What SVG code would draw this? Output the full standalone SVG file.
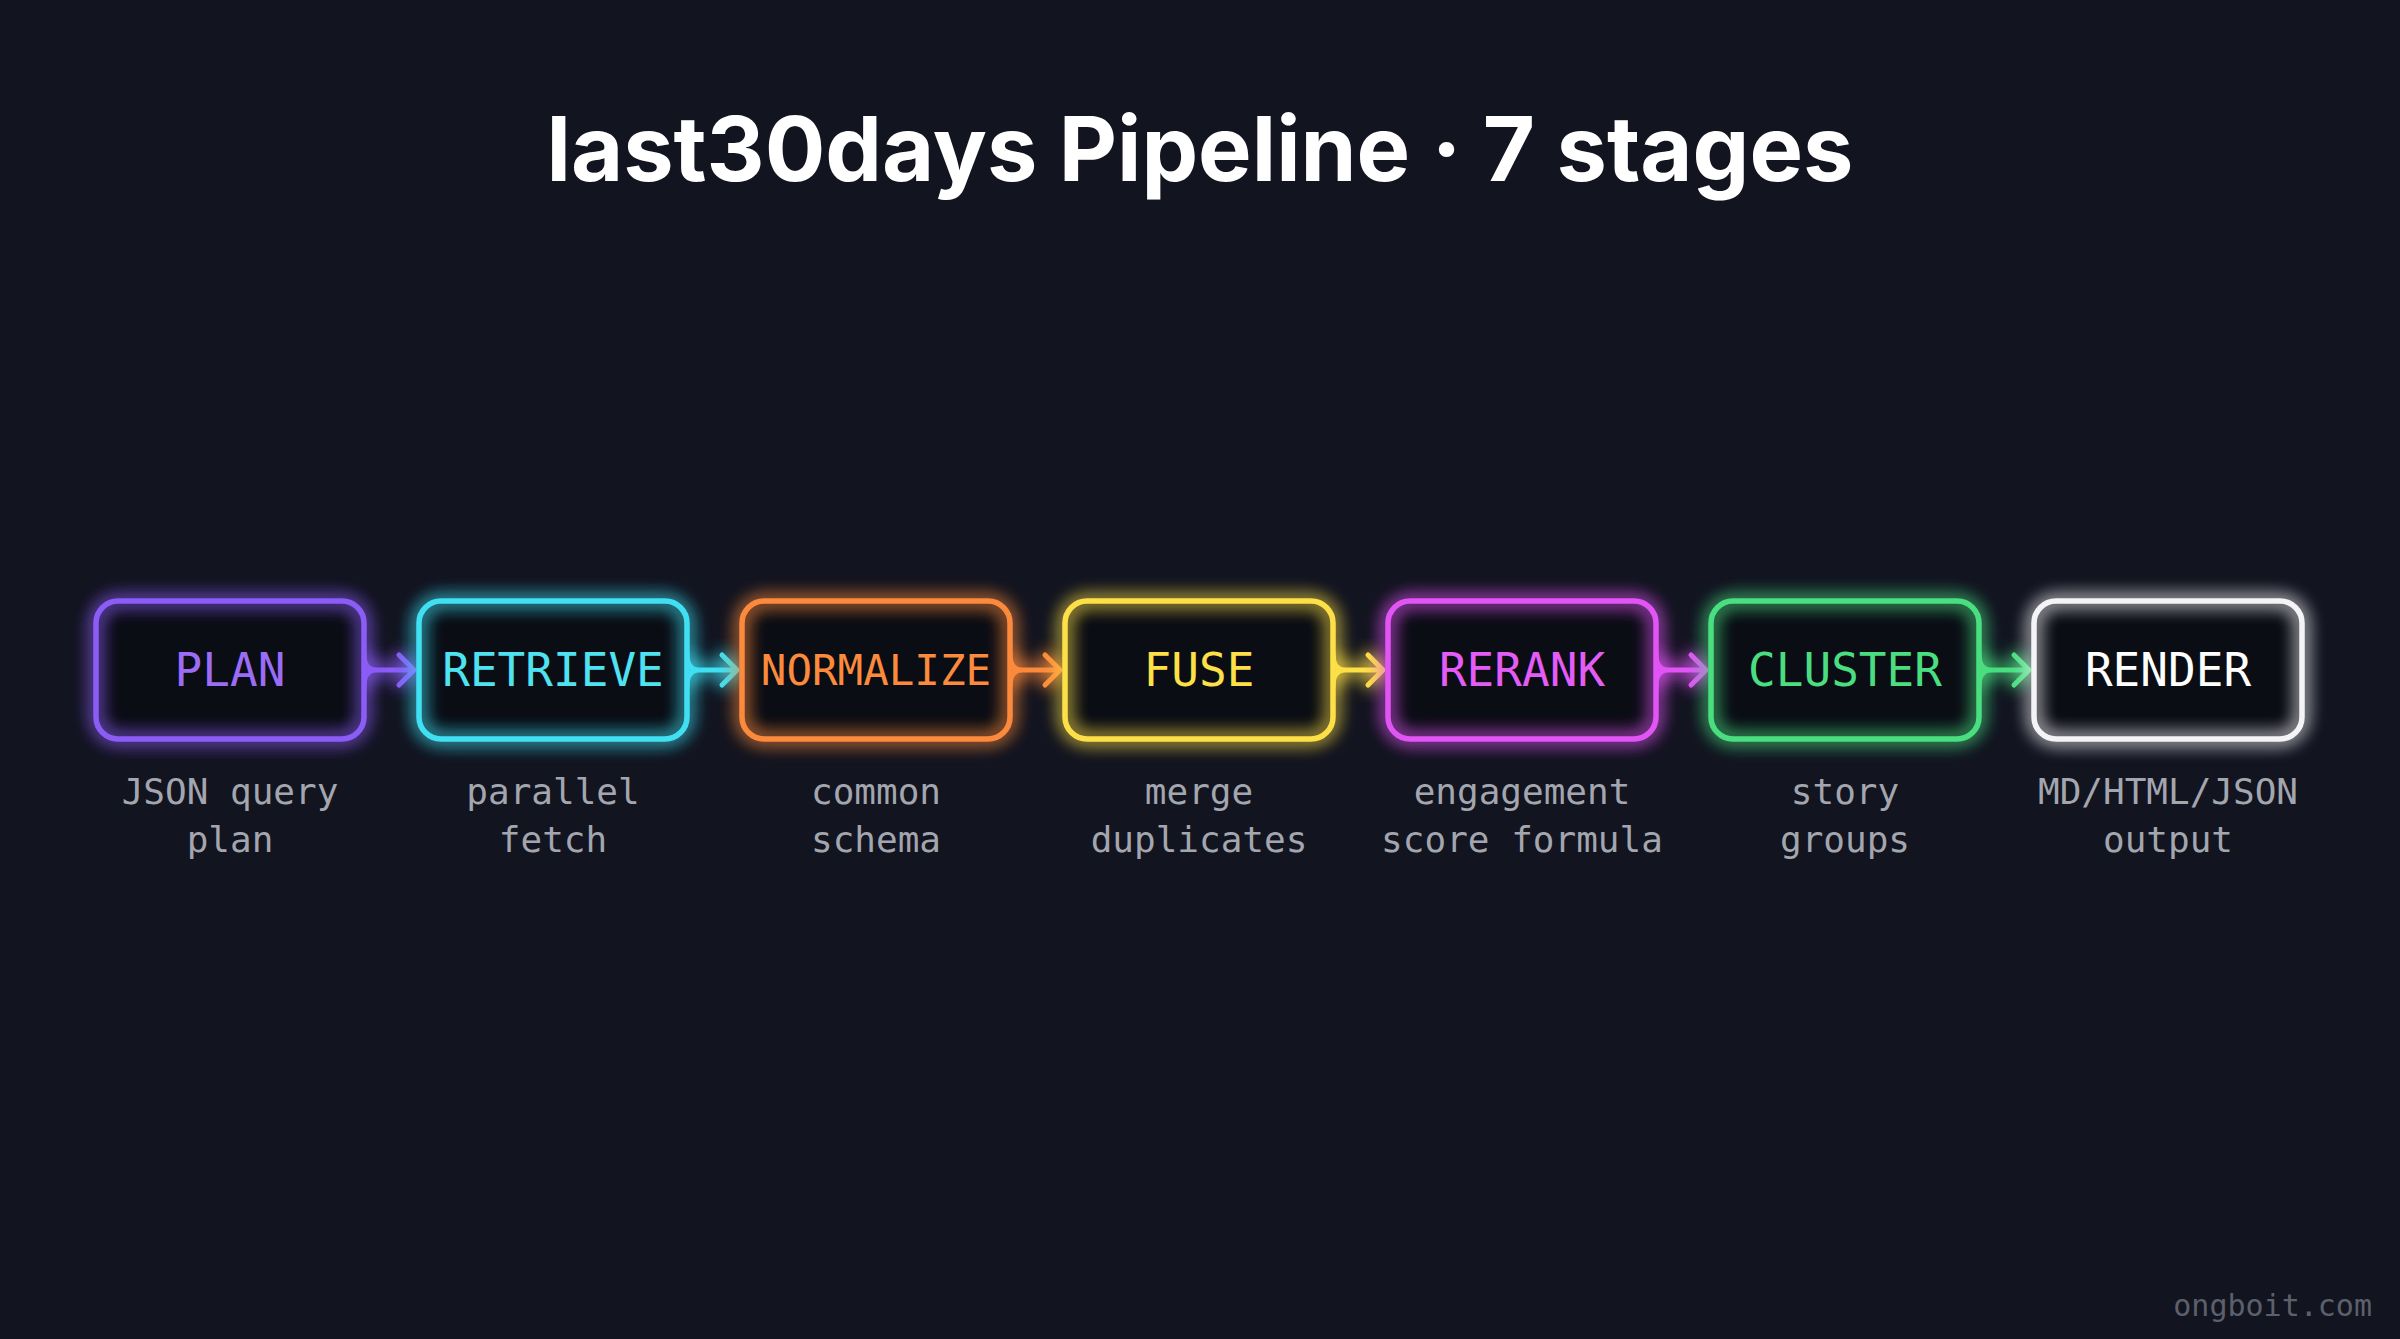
<svg xmlns="http://www.w3.org/2000/svg" width="2400" height="1339" viewBox="0 0 2400 1339">
<defs>
<filter id="glow" x="-30%" y="-50%" width="160%" height="200%">
<feGaussianBlur in="SourceGraphic" stdDeviation="9" result="b"/>
<feMerge><feMergeNode in="b"/><feMergeNode in="b"/><feMergeNode in="SourceGraphic"/></feMerge>
</filter>
</defs>
<style>
.bg{fill:#0b0d15;stroke:none}
.box{fill:none;stroke-width:5.5}
.lbl{font-family:"DejaVu Sans Mono",monospace;font-size:46px;text-anchor:middle}
.sub{font-family:"DejaVu Sans Mono",monospace;font-size:36px;fill:#a3a6ae;text-anchor:middle}
.con{fill:none;stroke-width:5;stroke-linecap:round;stroke-linejoin:round}
.title{font-family:Inter,"Liberation Sans",sans-serif;font-weight:700;font-size:90px;fill:#ffffff;text-anchor:middle}
</style>
<rect width="2400" height="1339" fill="#121420"/>
<text class="title" x="1200" y="181">last30days Pipeline · 7 stages</text>

<g id="connectors" filter="url(#glow)">
<path class="con" stroke="#8b5cf6" d="M364,654 Q364,670 376,670 H413 M364,686 Q364,670 376,670 M399,655 L414,670 L399,685"/>
<path class="con" stroke="#3fe0f2" d="M687,654 Q687,670 699,670 H736 M687,686 Q687,670 699,670 M722,655 L737,670 L722,685"/>
<path class="con" stroke="#fb8a3c" d="M1010,654 Q1010,670 1022,670 H1059 M1010,686 Q1010,670 1022,670 M1045,655 L1060,670 L1045,685"/>
<path class="con" stroke="#fde047" d="M1333,654 Q1333,670 1345,670 H1382 M1333,686 Q1333,670 1345,670 M1368,655 L1383,670 L1368,685"/>
<path class="con" stroke="#e254f5" d="M1656,654 Q1656,670 1668,670 H1705 M1656,686 Q1656,670 1668,670 M1691,655 L1706,670 L1691,685"/>
<path class="con" stroke="#4ade80" d="M1979,654 Q1979,670 1991,670 H2028 M1979,686 Q1979,670 1991,670 M2014,655 L2029,670 L2014,685"/>
</g>

<g id="plan">
<rect class="bg" x="96" y="601" width="268" height="138" rx="22"/>
<rect class="box" x="96" y="601" width="268" height="138" rx="22" stroke="#8b5cf6" filter="url(#glow)"/>
<text class="lbl" x="230" y="686" fill="#9b6cf6">PLAN</text>
<text class="sub" x="230" y="804">JSON query</text>
<text class="sub" x="230" y="852">plan</text>
</g>
<g id="retrieve">
<rect class="bg" x="419" y="601" width="268" height="138" rx="22"/>
<rect class="box" x="419" y="601" width="268" height="138" rx="22" stroke="#3fe0f2" filter="url(#glow)"/>
<text class="lbl" x="553" y="686" fill="#4fe3f2">RETRIEVE</text>
<text class="sub" x="553" y="804">parallel</text>
<text class="sub" x="553" y="852">fetch</text>
</g>
<g id="normalize">
<rect class="bg" x="742" y="601" width="268" height="138" rx="22"/>
<rect class="box" x="742" y="601" width="268" height="138" rx="22" stroke="#fb8a3c" filter="url(#glow)"/>
<text class="lbl" x="876" y="685" fill="#fb8a3c" style="font-size:42.5px">NORMALIZE</text>
<text class="sub" x="876" y="804">common</text>
<text class="sub" x="876" y="852">schema</text>
</g>
<g id="fuse">
<rect class="bg" x="1065" y="601" width="268" height="138" rx="22"/>
<rect class="box" x="1065" y="601" width="268" height="138" rx="22" stroke="#fde047" filter="url(#glow)"/>
<text class="lbl" x="1199" y="686" fill="#fde047">FUSE</text>
<text class="sub" x="1199" y="804">merge</text>
<text class="sub" x="1199" y="852">duplicates</text>
</g>
<g id="rerank">
<rect class="bg" x="1388" y="601" width="268" height="138" rx="22"/>
<rect class="box" x="1388" y="601" width="268" height="138" rx="22" stroke="#e254f5" filter="url(#glow)"/>
<text class="lbl" x="1522" y="686" fill="#e25cf5">RERANK</text>
<text class="sub" x="1522" y="804">engagement</text>
<text class="sub" x="1522" y="852">score formula</text>
</g>
<g id="cluster">
<rect class="bg" x="1711" y="601" width="268" height="138" rx="22"/>
<rect class="box" x="1711" y="601" width="268" height="138" rx="22" stroke="#4ade80" filter="url(#glow)"/>
<text class="lbl" x="1845" y="686" fill="#4ade80">CLUSTER</text>
<text class="sub" x="1845" y="804">story</text>
<text class="sub" x="1845" y="852">groups</text>
</g>
<g id="render">
<rect class="bg" x="2034" y="601" width="268" height="138" rx="22"/>
<rect class="box" x="2034" y="601" width="268" height="138" rx="22" stroke="#f4f4f6" filter="url(#glow)"/>
<text class="lbl" x="2168" y="686" fill="#ffffff">RENDER</text>
<text class="sub" x="2168" y="804">MD/HTML/JSON</text>
<text class="sub" x="2168" y="852">output</text>
</g>

<text x="2372" y="1316" font-family="DejaVu Sans Mono,monospace" font-size="30" fill="#5c606c" text-anchor="end">ongboit.com</text>
</svg>
